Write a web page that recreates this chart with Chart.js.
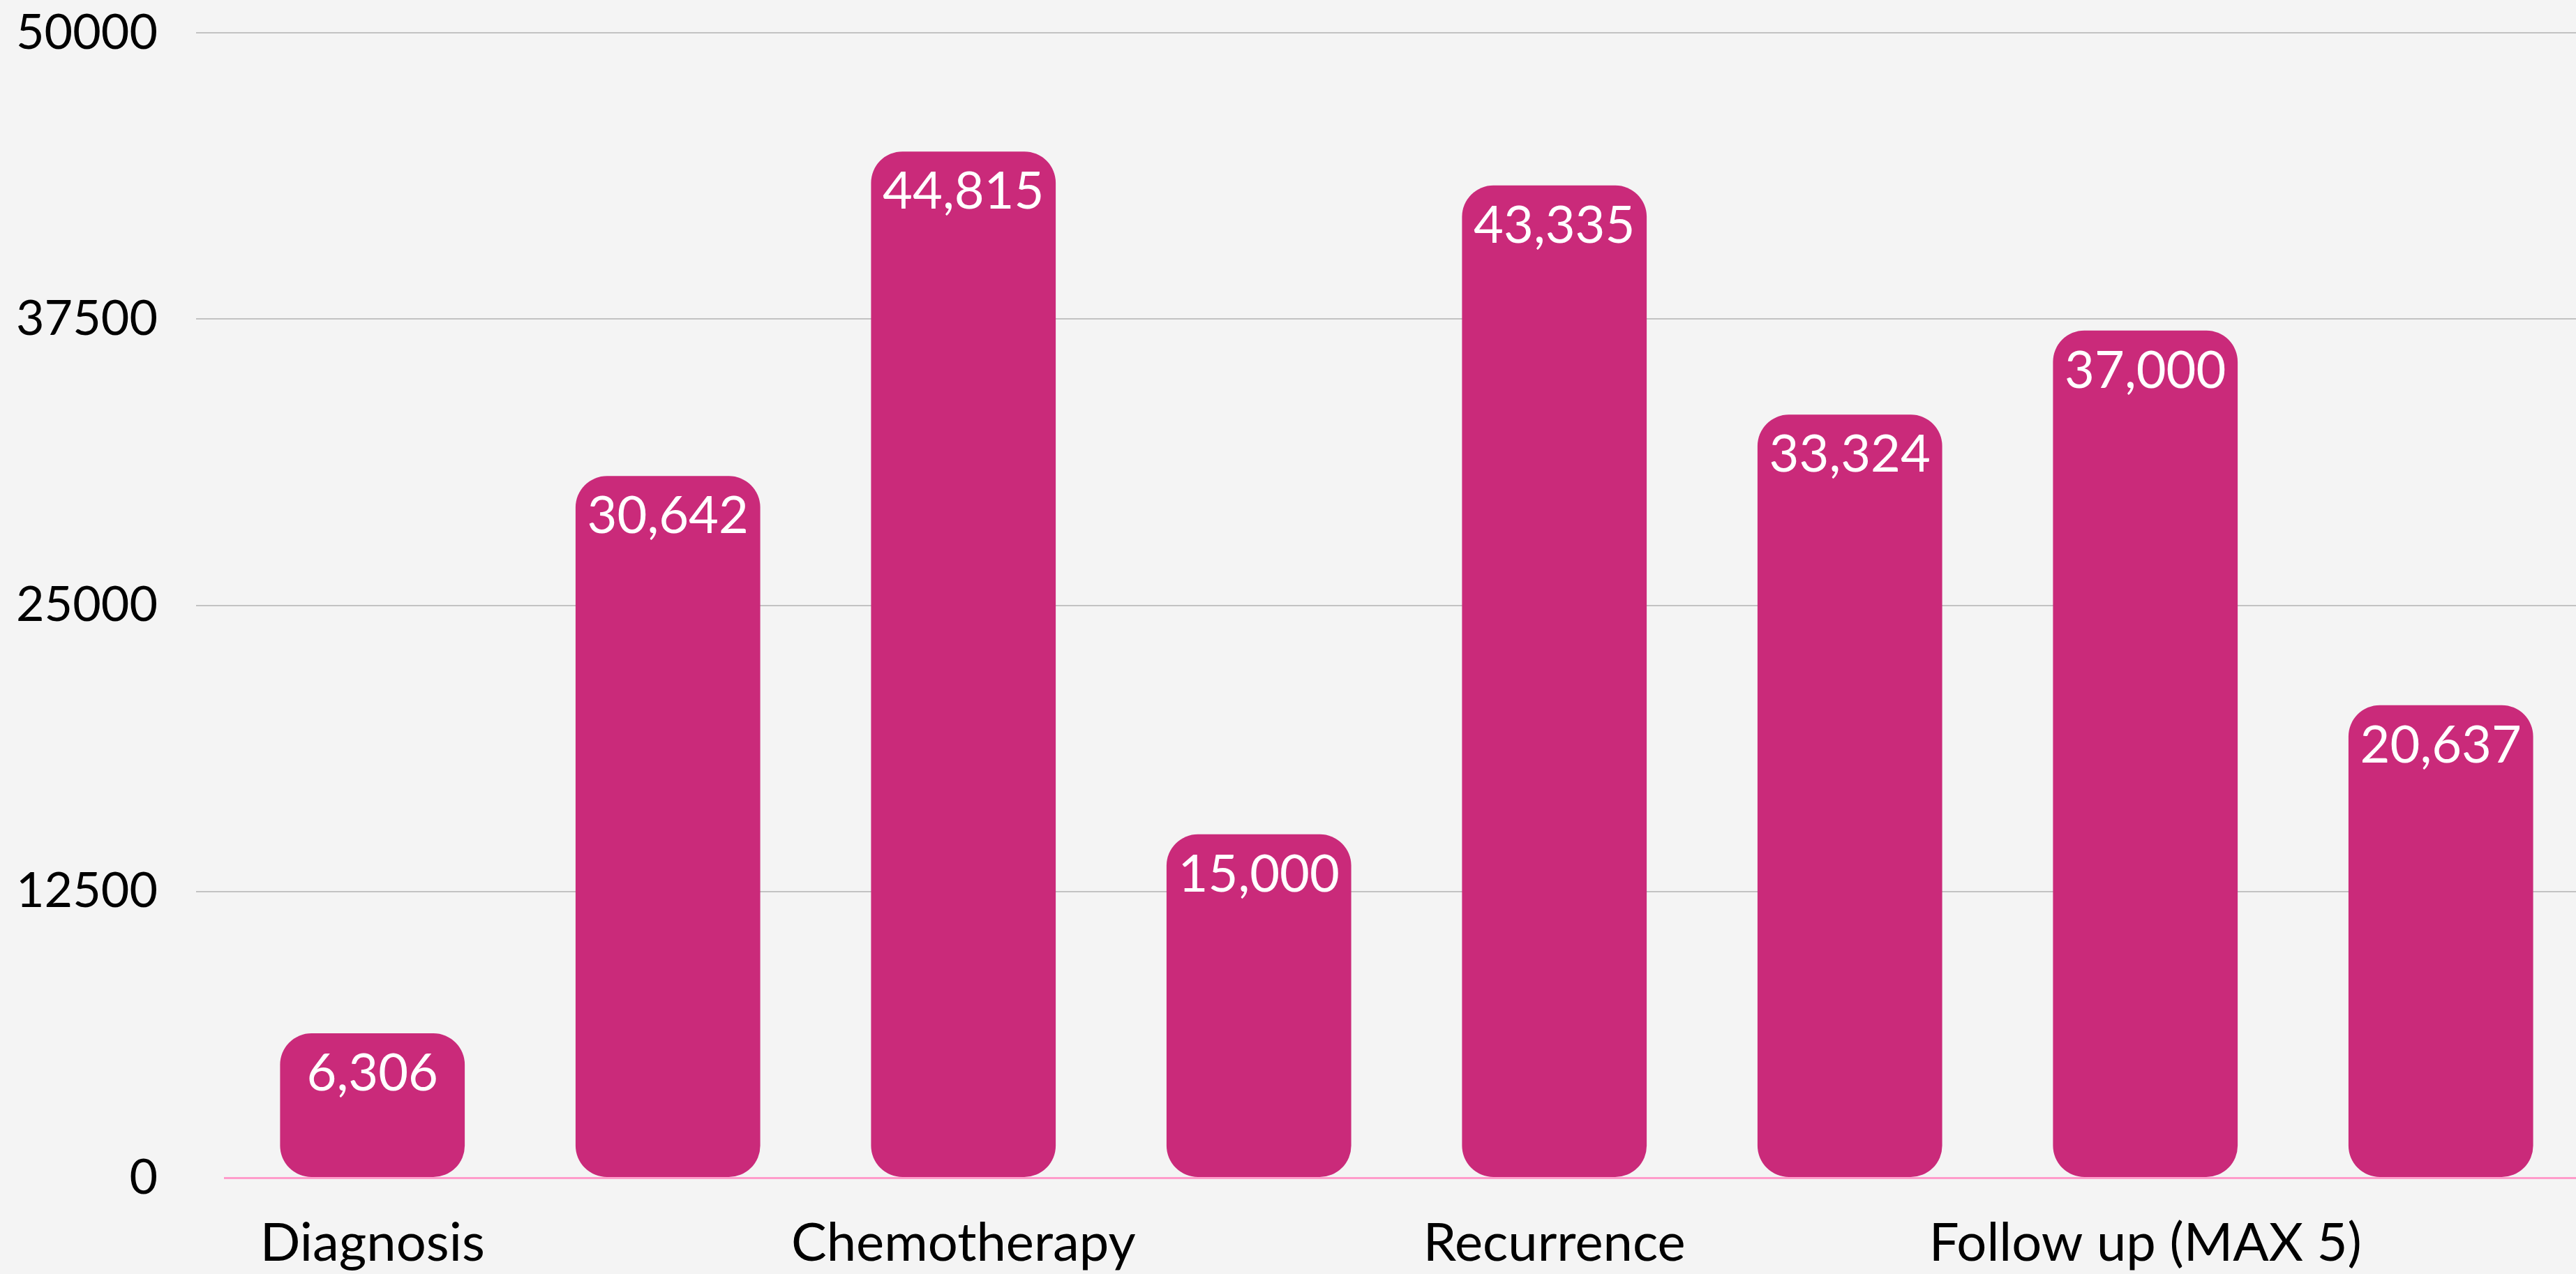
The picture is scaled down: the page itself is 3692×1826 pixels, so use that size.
<!DOCTYPE html>
<html>
<head>
<meta charset="utf-8">
<script src="https://cdn.jsdelivr.net/npm/chart.js@4/dist/chart.umd.min.js"></script>
<style>
    html, body { margin: 0; padding: 0; background: #f4f4f4; overflow: hidden; }
    #wrap { position: relative; width: 3710px; height: 1826px; }
</style>
</head>
<body>
<div id="wrap"><canvas id="costChart"></canvas></div>
<script>
// categories (only every other one carries a visible label)
const categories = ['Diagnosis', '', 'Chemotherapy', '', 'Recurrence', '', 'Follow up (MAX 5)', ''];
const costValues = [6306, 30642, 44815, 15000, 43335, 33324, 37000, 20637];
const yTicks = [0, 12500, 25000, 37500, 50000];

const barColor = '#ca2a7a';
const gridGrey = '#c2c2c2';
const zeroPink = '#ff9ccb';

// white value labels inside the top of each bar
const valueLabels = {
    id: 'valueLabels',
    afterDatasetsDraw(chart) {
        const ctx = chart.ctx;
        const meta = chart.getDatasetMeta(0);
        ctx.save();
        ctx.fillStyle = '#ffffff';
        ctx.font = '74px Lato';
        ctx.textAlign = 'center';
        ctx.textBaseline = 'alphabetic';
        meta.data.forEach((bar, i) => {
            ctx.fillText(costValues[i].toLocaleString('en-US'), bar.x, bar.y + 82);
        });
        ctx.restore();
    }
};

const ctx = document.getElementById('costChart').getContext('2d');
const costChart = new Chart(ctx, {
    type: 'bar',
    data: {
        labels: categories,
        datasets: [{
            data: costValues,
            backgroundColor: barColor,
            borderRadius: 45,
            borderSkipped: false,
            categoryPercentage: 1,
            barPercentage: 0.625
        }]
    },
    options: {
        responsive: true,
        maintainAspectRatio: false,
        animation: false,
        layout: { padding: { top: 47, right: 0, bottom: 0, left: 0 } },
        plugins: {
            legend: { display: false },
            tooltip: { enabled: false }
        },
        scales: {
            x: {
                grid: { display: false, drawTicks: false },
                border: { display: true, color: zeroPink, width: 3 },
                ticks: {
                    autoSkip: false,
                    maxRotation: 0,
                    padding: 49,
                    color: '#000',
                    font: { family: 'Lato', size: 76 }
                },
                afterFit: (scale) => { scale.height = 138; }
            },
            y: {
                min: 0,
                max: 50000,
                afterFit: (scale) => {
                    scale.width = 322;
                    scale.paddingTop = 0;
                    scale.paddingBottom = 0;
                },
                afterBuildTicks: (scale) => { scale.ticks = yTicks.map(v => ({ value: v })); },
                grid: {
                    color: (c) => c.tick && c.tick.value === 0 ? 'rgba(0,0,0,0)' : gridGrey,
                    tickColor: (c) => c.tick && c.tick.value === 0 ? 'rgba(0,0,0,0)' : gridGrey,
                    lineWidth: 2,
                    tickLength: 41
                },
                border: { display: false },
                ticks: {
                    padding: 55,
                    color: '#000',
                    font: { family: 'Lato', size: 70 },
                    callback: (v) => String(v)
                }
            }
        }
    },
    plugins: [valueLabels]
});
</script>
</body>
</html>
